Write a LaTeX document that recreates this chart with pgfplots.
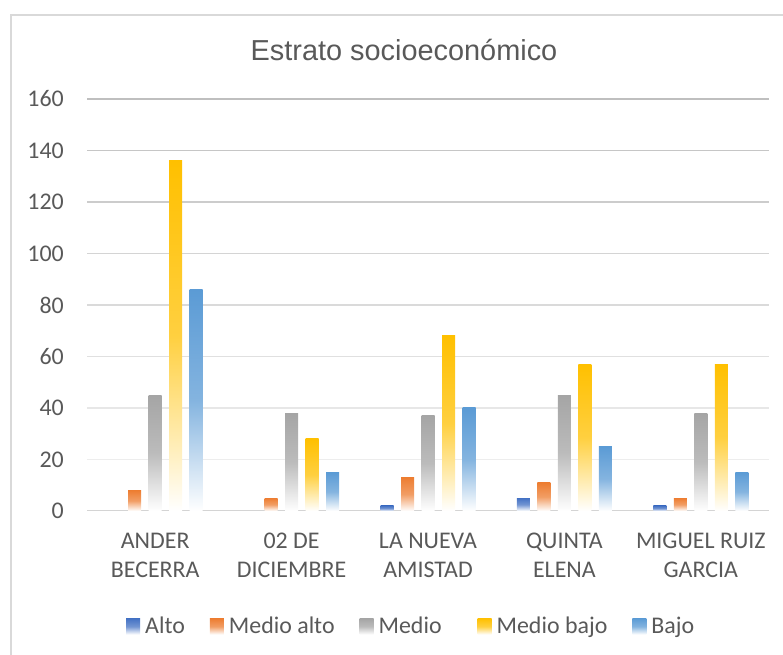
\documentclass[border=0pt]{standalone}
\usepackage{fontspec}
\setmainfont{Carlito}
\newfontfamily\titlefont{Liberation Sans}
\usepackage{pgfplots}
\pgfplotsset{compat=1.18}
\definecolor{cA}{HTML}{4472C4}
\definecolor{cB}{HTML}{ED7D31}
\definecolor{cC}{HTML}{A5A5A5}
\definecolor{cD}{HTML}{FFC000}
\definecolor{cE}{HTML}{5B9BD5}
\definecolor{txt}{HTML}{595959}
\pgfplotsset{
  mybar/.style={draw=none, top color=#1, bottom color=white, middle color=#1!75!white,
    legend image code/.code={\path[##1, draw=none] (0bp,-1bp) rectangle (14bp,15bp);}},
}
% one bar: colour, shift, x, y
\newcommand{\bb}[4]{\addplot[ybar, bar width=13bp, bar shift=#2, mybar=#1, forget plot] coordinates {(#3,#4)};}
\begin{document}
\begin{tikzpicture}
\useasboundingbox (0bp,0bp) rectangle (783bp,655bp);
\clip (0bp,0bp) rectangle (783bp,655bp);
\draw[line width=1.5bp, color=black!15] (11bp,-10bp) -- (11bp,640bp) -- (800bp,640bp);
\node[anchor=base, font=\titlefont\fontsize{29}{34}\selectfont, text=txt, inner sep=0pt] at (404bp,594bp) {Estrato socioeconómico};
\begin{axis}[
  at={(87bp,144bp)}, anchor=south west, scale only axis,
  width=682bp, height=412bp,
  xmin=-0.5, xmax=4.5, ymin=0, ymax=160,
  axis line style={draw=none},
  tick style={draw=none}, major tick length=0pt,
  ytick={0,20,...,160},
  /pgf/number format/assume math mode=true,
  yticklabel style={anchor=east, inner sep=0pt, xshift=-23bp, font=\fontsize{24}{29}\selectfont, text=txt},
  xtick={0,1,2,3,4},
  xticklabels={{ANDER\\BECERRA},{02 DE\\DICIEMBRE},{LA NUEVA\\AMISTAD},{QUINTA\\ELENA},{MIGUEL RUIZ\\GARCIA}},
  xticklabel style={align=center, anchor=north, inner sep=0pt, yshift=-22bp, font=\fontsize{24}{29}\selectfont, text=txt},
  legend columns=5,
  legend style={at={(axis description cs:0.0572,-0.279)}, anchor=west, draw=none, fill=none,
    inner sep=0pt, font=\fontsize{24}{29}\selectfont, text=txt,
    nodes={inner sep=0pt}, cells={anchor=base west},
    /tikz/every odd column/.append style={column sep=5bp},
    /tikz/every even column/.append style={column sep=25bp}},
]
\draw[black!7, line width=1.5bp] (axis cs:-0.5,20) -- (axis cs:4.5,20);
\draw[black!9.5, line width=1.5bp] (axis cs:-0.5,40) -- (axis cs:4.5,40);
\draw[black!12, line width=1.5bp] (axis cs:-0.5,60) -- (axis cs:4.5,60);
\draw[black!14.5, line width=1.5bp] (axis cs:-0.5,80) -- (axis cs:4.5,80);
\draw[black!17, line width=1.5bp] (axis cs:-0.5,100) -- (axis cs:4.5,100);
\draw[black!20, line width=1.5bp] (axis cs:-0.5,120) -- (axis cs:4.5,120);
\draw[black!22.5, line width=1.5bp] (axis cs:-0.5,140) -- (axis cs:4.5,140);
\draw[black!25, line width=1.5bp] (axis cs:-0.5,160) -- (axis cs:4.5,160);
\draw[black!17, line width=1.5bp] (axis cs:-0.5,0) -- (axis cs:4.5,0);
% Alto
\bb{cA}{-41bp}{2}{2}
\bb{cA}{-41bp}{3}{5}
\bb{cA}{-41bp}{4}{2}
% Medio alto
\bb{cB}{-20.5bp}{0}{8}
\bb{cB}{-20.5bp}{1}{5}
\bb{cB}{-20.5bp}{2}{13}
\bb{cB}{-20.5bp}{3}{11}
\bb{cB}{-20.5bp}{4}{5}
% Medio
\bb{cC}{0bp}{0}{45}
\bb{cC}{0bp}{1}{38}
\bb{cC}{0bp}{2}{37}
\bb{cC}{0bp}{3}{45}
\bb{cC}{0bp}{4}{38}
% Medio bajo
\bb{cD}{20.5bp}{0}{136}
\bb{cD}{20.5bp}{1}{28}
\bb{cD}{20.5bp}{2}{68}
\bb{cD}{20.5bp}{3}{57}
\bb{cD}{20.5bp}{4}{57}
% Bajo
\bb{cE}{41bp}{0}{86}
\bb{cE}{41bp}{1}{15}
\bb{cE}{41bp}{2}{40}
\bb{cE}{41bp}{3}{25}
\bb{cE}{41bp}{4}{15}
\addlegendimage{mybar=cA}
\addlegendentry{Alto}
\addlegendimage{mybar=cB}
\addlegendentry{Medio alto}
\addlegendimage{mybar=cC}
\addlegendentry{Medio\rule{11bp}{0pt}}
\addlegendimage{mybar=cD}
\addlegendentry{Medio bajo}
\addlegendimage{mybar=cE}
\addlegendentry{Bajo}
\end{axis}
\end{tikzpicture}
\end{document}
